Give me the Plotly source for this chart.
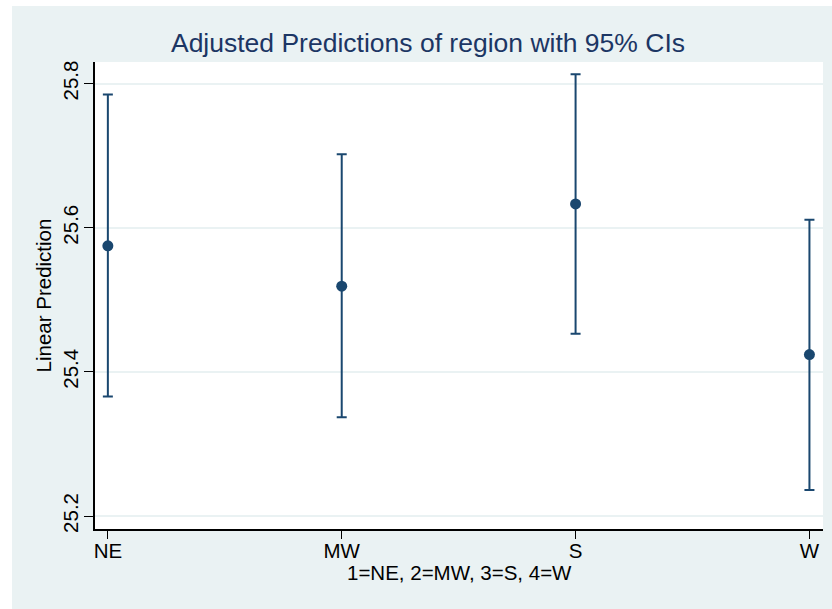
import plotly.graph_objects as go

# Data
categories = ["NE", "MW", "S", "W"]
category_codes = [1, 2, 3, 4]
predictions = [25.575, 25.519, 25.633, 25.424]
ci_lower = [25.366, 25.337, 25.453, 25.236]
ci_upper = [25.785, 25.702, 25.813, 25.611]
y_ticks = [25.2, 25.4, 25.6, 25.8]

W, H = 832, 609
L, R, T, B = 95, 9, 62, 80
pw, ph = W - L - R, H - T - B

navy = "#1A476F"
bg = "#EAF2F3"
font = "Liberation Sans, Arial, sans-serif"

fig = go.Figure()
fig.add_trace(go.Scatter(
    x=category_codes, y=predictions, mode="markers",
    marker=dict(color=navy, size=11, symbol="circle"),
    error_y=dict(type="data", symmetric=False,
                 array=[u - p for u, p in zip(ci_upper, predictions)],
                 arrayminus=[p - l for p, l in zip(predictions, ci_lower)],
                 color=navy, thickness=2, width=5),
    showlegend=False, hoverinfo="skip"))

def px_x(p):
    return (p - L) / pw

def px_y(p):
    return (H - B - p) / ph

fig.update_layout(
    width=W, height=H,
    margin=dict(l=L, r=R, t=T, b=B, pad=0),
    paper_bgcolor="white", plot_bgcolor="white",
    font=dict(family=font, size=20.5, color="black"),
    title=dict(text="Adjusted Predictions of region with 95% CIs",
               x=428 / W, xanchor="center", xref="container",
               y=1 - 43 / H, yanchor="middle", yref="container",
               font=dict(family=font, size=26.5, color="#1c3664")),
    shapes=[
        dict(type="rect", xref="paper", yref="paper", layer="below",
             x0=px_x(12), x1=px_x(W + 5), y0=px_y(H + 5), y1=px_y(6),
             fillcolor=bg, line=dict(width=0)),
        dict(type="rect", xref="paper", yref="paper", layer="below",
             x0=0, x1=1, y0=0, y1=1, fillcolor="white", line=dict(width=0)),
    ],
    annotations=[
        dict(text="1=NE, 2=MW, 3=S, 4=W", xref="paper", yref="paper",
             x=0.5, xanchor="center", y=px_y(572), yanchor="middle",
             showarrow=False, font=dict(family=font, size=20.5, color="black")),
    ],
    xaxis=dict(
        range=[0.945, 4.058], tickmode="array", tickvals=category_codes,
        ticktext=categories, ticks="outside", ticklen=8, tickwidth=1,
        tickcolor="black", showline=True, linecolor="black", linewidth=1.5,
        showgrid=False, zeroline=False, ticklabelstandoff=-5,
        tickfont=dict(size=20.5, color="black")),
    yaxis=dict(
        range=[25.182, 25.830], tickmode="array", tickvals=y_ticks,
        ticktext=[f"{v:.1f}" for v in y_ticks], tickangle=-90,
        ticks="outside", ticklen=9, tickwidth=1, tickcolor="black",
        showline=True, linecolor="black", linewidth=1.5,
        showgrid=True, gridcolor=bg, gridwidth=1.5, zeroline=False,
        ticklabelstandoff=-2,
        tickfont=dict(size=20.5, color="black"),
        title=dict(text="Linear Prediction", standoff=2,
                   font=dict(size=20.5, color="black"))),
)

fig.write_html("out.html",
               config={"displayModeBar": False},
               post_script="document.body.style.margin='0';"
                           "document.body.style.overflow='hidden';")
